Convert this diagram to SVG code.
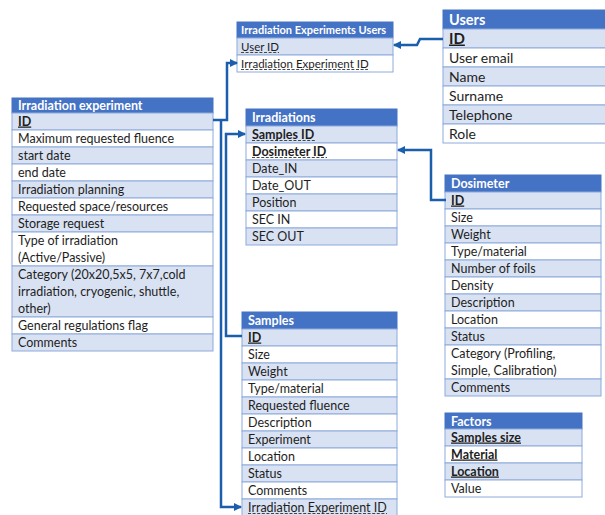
<svg xmlns="http://www.w3.org/2000/svg" width="605" height="515" viewBox="0 0 605 515">
<style>
.h{fill:#4472C4;stroke:#4472C4;stroke-width:1}
.b{fill:#D9E2F3;stroke:#8EAADB;stroke-width:1}
.w{fill:#FFFFFF;stroke:#8EAADB;stroke-width:1}
text{font-family:Lato,"Open Sans","Liberation Sans",sans-serif;fill:#1e1e1e;font-size:12.5px}
.ht{font-weight:bold;fill:#FFFFFF}
.k{font-weight:bold;text-decoration:underline}
.kb{font-weight:bold}
.s{font-size:11.5px}
.L{font-size:14px}
.u{fill:none;stroke:#333333;stroke-width:0.9;stroke-dasharray:3 1.6}
.c{fill:none;stroke:#1B5EAB;stroke-width:2.5}
</style>
<defs>
<marker id="ah" viewBox="0 0 8 8" markerWidth="8" markerHeight="8" markerUnits="userSpaceOnUse" refX="7" refY="4" orient="auto">
<path d="M0,0 L8,4 L0,8 z" fill="#1B5EAB"/>
</marker>
</defs>
<rect width="605" height="515" fill="#FFFFFF"/>

<g id="irradiation-experiment">
<rect class="h" x="12" y="98" width="201" height="15"/>
<text class="ht" x="18" y="110">Irradiation experiment</text>
<rect class="b" x="12" y="113" width="201" height="17"/>
<rect class="w" x="12" y="130" width="201" height="17"/>
<rect class="b" x="12" y="147" width="201" height="17"/>
<rect class="w" x="12" y="164" width="201" height="17"/>
<rect class="b" x="12" y="181" width="201" height="17"/>
<rect class="w" x="12" y="198" width="201" height="17"/>
<rect class="b" x="12" y="215" width="201" height="17"/>
<rect class="w" x="12" y="232" width="201" height="34"/>
<rect class="b" x="12" y="266" width="201" height="51"/>
<rect class="w" x="12" y="317" width="201" height="17"/>
<rect class="b" x="12" y="334" width="201" height="17"/>
<text class="k" x="18" y="125.5">ID</text>
<text x="18" y="142.5">Maximum requested fluence</text>
<text x="18" y="159.5">start date</text>
<text x="18" y="176.5">end date</text>
<text x="18" y="193.5">Irradiation planning</text>
<text x="18" y="210.5">Requested space/resources</text>
<text x="18" y="227.5">Storage request</text>
<text x="18" y="244.5">Type of irradiation</text>
<text x="18" y="261.5">(Active/Passive)</text>
<text x="18" y="278.5">Category (20x20,5x5, 7x7,cold</text>
<text x="18" y="295.5">irradiation, cryogenic, shuttle,</text>
<text x="18" y="312.5">other)</text>
<text x="18" y="329.5">General regulations flag</text>
<text x="18" y="346.5">Comments</text>
</g>

<g id="irradiation-experiments-users">
<rect class="h" x="237" y="22" width="156" height="16"/>
<text class="ht" x="241" y="34" style="font-size:11px">Irradiation Experiments Users</text>
<rect class="b" x="237" y="38" width="156" height="17"/>
<rect class="w" x="237" y="55" width="156" height="17"/>
<text class="s" x="241" y="50.5">User ID</text>
<text class="s" x="241" y="67.5">Irradiation Experiment ID</text>
<path class="u" d="M241,52.5 H279 M241,69.5 H368"/>
</g>

<g id="users">
<rect class="h" x="443" y="10" width="163" height="19"/>
<text class="ht" x="449" y="25" style="font-size:14.5px">Users</text>
<rect class="b" x="443" y="29" width="163" height="19"/>
<rect class="w" x="443" y="48" width="163" height="19"/>
<rect class="b" x="443" y="67" width="163" height="19"/>
<rect class="w" x="443" y="86" width="163" height="19"/>
<rect class="b" x="443" y="105" width="163" height="19"/>
<rect class="w" x="443" y="124" width="163" height="19"/>
<text class="k L" x="449" y="43.5" style="font-size:15px">ID</text>
<text class="L" x="449" y="62.5">User email</text>
<text class="L" x="449" y="81.5">Name</text>
<text class="L" x="449" y="100.5">Surname</text>
<text class="L" x="449" y="119.5">Telephone</text>
<text class="L" x="449" y="138.5">Role</text>
</g>

<g id="irradiations">
<rect class="h" x="246" y="109" width="151" height="17"/>
<text class="ht" x="252" y="122">Irradiations</text>
<rect class="b" x="246" y="126" width="151" height="17"/>
<rect class="w" x="246" y="143" width="151" height="17"/>
<rect class="b" x="246" y="160" width="151" height="17"/>
<rect class="w" x="246" y="177" width="151" height="17"/>
<rect class="b" x="246" y="194" width="151" height="17"/>
<rect class="w" x="246" y="211" width="151" height="17"/>
<rect class="b" x="246" y="228" width="151" height="17"/>
<text class="kb" x="252" y="138.5">Samples ID</text>
<text class="kb" x="252" y="155.5">Dosimeter ID</text>
<path class="u" d="M252,140.5 H316 M252,157.5 H327"/>
<text x="252" y="172.5">Date_IN</text>
<text x="252" y="189.5">Date_OUT</text>
<text x="252" y="206.5">Position</text>
<text x="252" y="223.5">SEC IN</text>
<text x="252" y="240.5">SEC OUT</text>
</g>

<g id="dosimeter">
<rect class="h" x="445" y="175" width="156" height="17"/>
<text class="ht" x="451" y="188">Dosimeter</text>
<rect class="b" x="445" y="192" width="156" height="17"/>
<rect class="w" x="445" y="209" width="156" height="17"/>
<rect class="b" x="445" y="226" width="156" height="17"/>
<rect class="w" x="445" y="243" width="156" height="17"/>
<rect class="b" x="445" y="260" width="156" height="17"/>
<rect class="w" x="445" y="277" width="156" height="17"/>
<rect class="b" x="445" y="294" width="156" height="17"/>
<rect class="w" x="445" y="311" width="156" height="17"/>
<rect class="b" x="445" y="328" width="156" height="17"/>
<rect class="w" x="445" y="345" width="156" height="34"/>
<rect class="b" x="445" y="379" width="156" height="17"/>
<text class="k" x="451" y="204.5">ID</text>
<text x="451" y="221.5">Size</text>
<text x="451" y="238.5">Weight</text>
<text x="451" y="255.5">Type/material</text>
<text x="451" y="272.5">Number of foils</text>
<text x="451" y="289.5">Density</text>
<text x="451" y="306.5">Description</text>
<text x="451" y="323.5">Location</text>
<text x="451" y="340.5">Status</text>
<text x="451" y="357.5">Category (Profiling,</text>
<text x="451" y="374.5">Simple, Calibration)</text>
<text x="451" y="391.5">Comments</text>
</g>

<g id="samples">
<rect class="h" x="242" y="312" width="155" height="17"/>
<text class="ht" x="248" y="325">Samples</text>
<rect class="b" x="242" y="329" width="155" height="17"/>
<rect class="w" x="242" y="346" width="155" height="17"/>
<rect class="b" x="242" y="363" width="155" height="17"/>
<rect class="w" x="242" y="380" width="155" height="17"/>
<rect class="b" x="242" y="397" width="155" height="17"/>
<rect class="w" x="242" y="414" width="155" height="17"/>
<rect class="b" x="242" y="431" width="155" height="17"/>
<rect class="w" x="242" y="448" width="155" height="17"/>
<rect class="b" x="242" y="465" width="155" height="17"/>
<rect class="w" x="242" y="482" width="155" height="17"/>
<rect class="b" x="242" y="499" width="155" height="17"/>
<text class="k" x="248" y="341.5">ID</text>
<text x="248" y="358.5">Size</text>
<text x="248" y="375.5">Weight</text>
<text x="248" y="392.5">Type/material</text>
<text x="248" y="409.5">Requested fluence</text>
<text x="248" y="426.5">Description</text>
<text x="248" y="443.5">Experiment</text>
<text x="248" y="460.5">Location</text>
<text x="248" y="477.5">Status</text>
<text x="248" y="494.5">Comments</text>
<text x="248" y="511.5">Irradiation Experiment ID</text>
<path class="u" d="M248,513.5 H387"/>
</g>

<g id="factors">
<rect class="h" x="445" y="413" width="137" height="16"/>
<text class="ht" x="451" y="425.5">Factors</text>
<rect class="b" x="445" y="429" width="137" height="17"/>
<rect class="w" x="445" y="446" width="137" height="17"/>
<rect class="b" x="445" y="463" width="137" height="17"/>
<rect class="w" x="445" y="480" width="137" height="17"/>
<text class="k" x="451" y="441.5">Samples size</text>
<text class="k" x="451" y="458.5">Material</text>
<text class="k" x="451" y="475.5">Location</text>
<text x="451" y="492.5">Value</text>
</g>

<g id="connectors">
<path class="c" d="M443,39 H420 L417,45 H394" marker-end="url(#ah)"/>
<path class="c" d="M446,200 H431 V150 H398" marker-end="url(#ah)"/>
<path class="c" d="M213,120 H227 V63 H237" marker-end="url(#ah)"/>
<path class="c" d="M221,120 V507 H241" marker-end="url(#ah)"/>
<path class="c" d="M242,336 H226 V134 H245" marker-end="url(#ah)"/>
</g>
</svg>
